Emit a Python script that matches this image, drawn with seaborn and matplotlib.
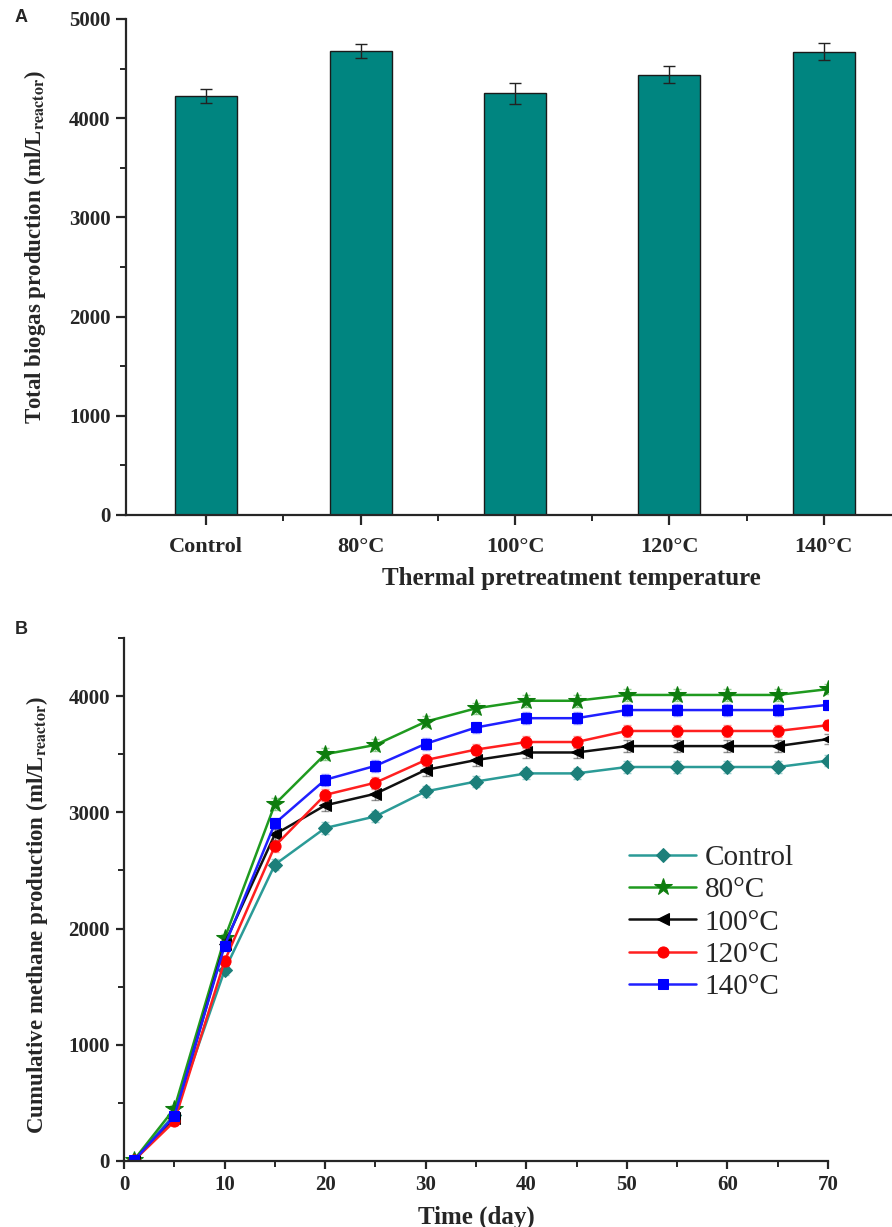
import numpy as np
import pandas as pd
import matplotlib
matplotlib.use("Agg")
import matplotlib.pyplot as plt
from matplotlib.ticker import MultipleLocator
import seaborn as sns

# ---------- Data ----------
groups = ["Control", "80°C", "100°C", "120°C", "140°C"]
biogas_total = [4220, 4680, 4250, 4440, 4670]
biogas_err = [70, 72, 105, 85, 88]

days = [1, 5, 10, 15, 20, 25, 30, 35, 40, 45, 50, 55, 60, 65, 70]
ch4_control = [5, 400, 1640, 2550, 2865, 2965, 3180, 3265, 3335, 3335, 3390, 3390, 3390, 3390, 3445]
ch4_80 = [10, 450, 1915, 3070, 3500, 3580, 3780, 3895, 3960, 3960, 4010, 4010, 4010, 4010, 4060]
ch4_100 = [5, 370, 1870, 2810, 3060, 3160, 3365, 3450, 3515, 3515, 3570, 3570, 3570, 3570, 3630]
ch4_120 = [5, 340, 1720, 2710, 3150, 3255, 3450, 3540, 3605, 3605, 3700, 3700, 3700, 3700, 3750]
ch4_140 = [5, 385, 1850, 2905, 3280, 3400, 3590, 3730, 3810, 3810, 3880, 3880, 3880, 3880, 3925]
ch4_err = [5, 30, 40, 50, 50, 50, 50, 50, 50, 50, 50, 50, 50, 50, 45]

series = [
    ("Control", ch4_control, "#2b9b97", "#1c7f7a", "D", 7),
    ("80°C", ch4_80, "#1f9a1f", "#0e7d0e", "*", 13),
    ("100°C", ch4_100, "#111111", "#000000", "<", 8),
    ("120°C", ch4_120, "#ff2020", "#ff0000", "o", 8),
    ("140°C", ch4_140, "#2020ff", "#0000ff", "s", 7),
]

# ---------- Style ----------
sns.set_theme(style="ticks")
plt.rcParams["font.family"] = ["Liberation Serif", "DejaVu Serif"]
plt.rcParams["mathtext.fontset"] = "stix"
plt.rcParams["axes.linewidth"] = 1.6
plt.rcParams["xtick.major.width"] = 1.6
plt.rcParams["ytick.major.width"] = 1.6
plt.rcParams["xtick.minor.width"] = 1.4
plt.rcParams["ytick.minor.width"] = 1.4

fig = plt.figure(figsize=(8.92, 12.27), dpi=100)

# =========================================================
# Panel A — total biogas bars
# =========================================================
axA = fig.add_axes([126 / 892, 1 - 515 / 1227, 778 / 892, 496 / 1227])
dfA = pd.DataFrame({"group": groups, "total": biogas_total})
sns.barplot(data=dfA, x="group", y="total", color="#008580", width=0.4,
            edgecolor="#1a1a1a", linewidth=1.0, saturation=1, ax=axA)
axA.errorbar(np.arange(len(groups)), biogas_total, yerr=biogas_err, fmt="none",
             ecolor="#222222", elinewidth=1.0, capsize=4, capthick=1.0)
axA.set_xlim(-0.52, 4.52)
axA.set_ylim(0, 5000)
axA.yaxis.set_major_locator(MultipleLocator(1000))
axA.yaxis.set_minor_locator(MultipleLocator(500))
axA.set_xticks(np.arange(len(groups)))
axA.set_xticks(np.arange(len(groups) - 1) + 0.5, minor=True)
axA.tick_params(axis="both", which="major", length=7, direction="out", labelsize=15, pad=4)
axA.tick_params(axis="both", which="minor", length=4, direction="out")
axA.tick_params(axis="x", which="major", pad=9, labelsize=16)
for lab in axA.get_xticklabels() + axA.get_yticklabels():
    lab.set_fontweight("bold")
axA.set_xlabel("Thermal pretreatment temperature", fontsize=18, fontweight="bold")
axA.xaxis.set_label_coords(0.572, -0.105)
axA.set_ylabel("Total biogas production (ml/L$_{\\mathbf{reactor}}$)", fontsize=16.5,
               fontweight="bold")
axA.yaxis.set_label_coords(-0.1, 0.54)
sns.despine(ax=axA)
fig.text(15 / 892, 1 - 18 / 1227, "A", fontsize=13, fontweight="bold",
         family="Liberation Sans", va="center", ha="left")

# =========================================================
# Panel B — cumulative methane curves
# =========================================================
axB = fig.add_axes([124 / 892, 1 - 1161 / 1227, 704 / 892, 523 / 1227])
for name, vals, lc, mc, mk, ms in series:
    axB.errorbar(days, vals, yerr=ch4_err, fmt="none", ecolor=lc, alpha=0.45,
                 elinewidth=1.0, capsize=3)
    sns.lineplot(x=days, y=vals, color=lc, marker=mk, markersize=ms,
                 markerfacecolor=mc, markeredgecolor=mc, linewidth=1.8,
                 label=name, ax=axB)
axB.set_xlim(0, 70)
axB.set_ylim(0, 4500)
axB.xaxis.set_major_locator(MultipleLocator(10))
axB.xaxis.set_minor_locator(MultipleLocator(5))
axB.set_yticks([0, 1000, 2000, 3000, 4000])
axB.yaxis.set_minor_locator(MultipleLocator(500))
axB.tick_params(axis="both", which="major", length=6, direction="out", labelsize=15, pad=4)
axB.tick_params(axis="both", which="minor", length=4, direction="out")
for lab in axB.get_xticklabels() + axB.get_yticklabels():
    lab.set_fontweight("bold")
axB.set_xlabel("Time (day)", fontsize=18, fontweight="bold", labelpad=8)
axB.set_ylabel("Cumulative methane production (ml/L$_{\\mathbf{reactor}}$)", fontsize=16.5,
               fontweight="bold")
axB.yaxis.set_label_coords(-0.105, 0.47)
sns.despine(ax=axB)
leg = axB.legend(loc="upper left", bbox_to_anchor=(0.68, 0.655), frameon=False,
                 fontsize=21, handlelength=2.3, labelspacing=0.2, handletextpad=0.3)
fig.text(15 / 892, 1 - 630 / 1227, "B", fontsize=13, fontweight="bold",
         family="Liberation Sans", va="center", ha="left")

fig.savefig("out.png", dpi=100)
